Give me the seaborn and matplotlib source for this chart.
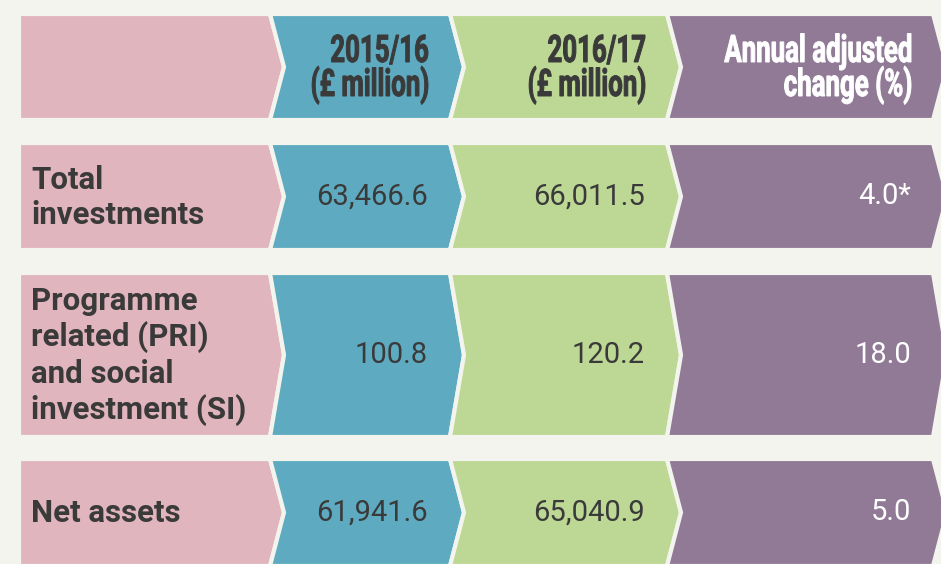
import matplotlib
matplotlib.use("Agg")
import matplotlib.pyplot as plt
from matplotlib.font_manager import FontProperties
from matplotlib.patches import Polygon, PathPatch
from matplotlib.textpath import TextPath
from matplotlib.transforms import Affine2D
import seaborn as sns

# table contents
col_headers = ["", "2015/16\n(£ million)", "2016/17\n(£ million)", "Annual adjusted\nchange (%)"]
row_labels = ["Total\ninvestments", "Programme\nrelated (PRI)\nand social\ninvestment (SI)", "Net assets"]
values_1516 = [63466.6, 100.8, 61941.6]
values_1617 = [66011.5, 120.2, 65040.9]
annual_change = [4.0, 18.0, 5.0]
change_notes = ["*", "", ""]

# layout (pixel units of the 941x564 canvas)
col_left = 19
col_right = [270, 450, 667, 933]
tip = 14
row_top = [14, 143, 273, 459]
row_bottom = [120, 250, 437, 566]
label_x = 31
value_right = [None, 428, 645, 911]
head_baselines = [62, 96]

colors = ["#e1b5be", "#5eabc1", "#bdd895", "#907a96"]
bg = "#f4f4ee"
dark = "#3a3a3a"

sns.set_theme(style="white")
plt.rcParams["font.family"] = ["Roboto", "DejaVu Sans"]

fig = plt.figure(figsize=(9.41, 5.64), dpi=100, facecolor=bg)
ax = fig.add_axes([0, 0, 1, 1])
ax.set_facecolor(bg)
ax.set_xlim(0, 941)
ax.set_ylim(564, 0)
ax.axis("off")


def chevron(x0, x1, y0, y1, notch, color):
    ym = (y0 + y1) / 2
    pts = [(x0, y0), (x1, y0), (x1 + tip, ym), (x1, y1), (x0, y1)]
    if notch:
        pts.append((x0 + tip, ym))
    ax.add_patch(Polygon(pts, closed=True, facecolor=color, edgecolor=bg, lw=3, joinstyle="miter"))


def condensed_text(s, right, baseline, color, size=38, squeeze=0.68):
    # no condensed bold face installed, so squeeze the glyph outlines
    path = TextPath((0, 0), s, size=size, prop=FontProperties(family="Roboto", weight="bold"))
    ext = path.get_extents()
    tr = Affine2D().scale(squeeze, -1).translate(right - ext.x1 * squeeze, baseline)
    ax.add_patch(PathPatch(tr.transform_path(path), facecolor=color, edgecolor=color, lw=0.7))


for r in range(4):
    y0, y1 = row_top[r], row_bottom[r]
    lefts = [col_left] + col_right[:-1]
    for c in range(4):
        chevron(lefts[c], col_right[c], y0, y1, c > 0, colors[c])

# header text
for c in range(1, 4):
    for line, base in zip(col_headers[c].split("\n"), head_baselines):
        condensed_text(line, value_right[c], base, "white" if c == 3 else dark)

# body rows
for i in range(3):
    ym = (row_top[i + 1] + row_bottom[i + 1]) / 2
    ax.text(label_x, ym + 1, row_labels[i], ha="left", va="center", fontsize=22.5,
            fontweight="bold", color=dark, linespacing=1.22)
    ax.text(value_right[1], ym, f"{values_1516[i]:,.1f}", ha="right", va="center",
            fontsize=21, color=dark)
    ax.text(value_right[2], ym, f"{values_1617[i]:,.1f}", ha="right", va="center",
            fontsize=21, color=dark)
    ax.text(value_right[3], ym, f"{annual_change[i]:.1f}{change_notes[i]}", ha="right",
            va="center", fontsize=21, color="white")

fig.savefig("out.png", dpi=100, facecolor=bg)
